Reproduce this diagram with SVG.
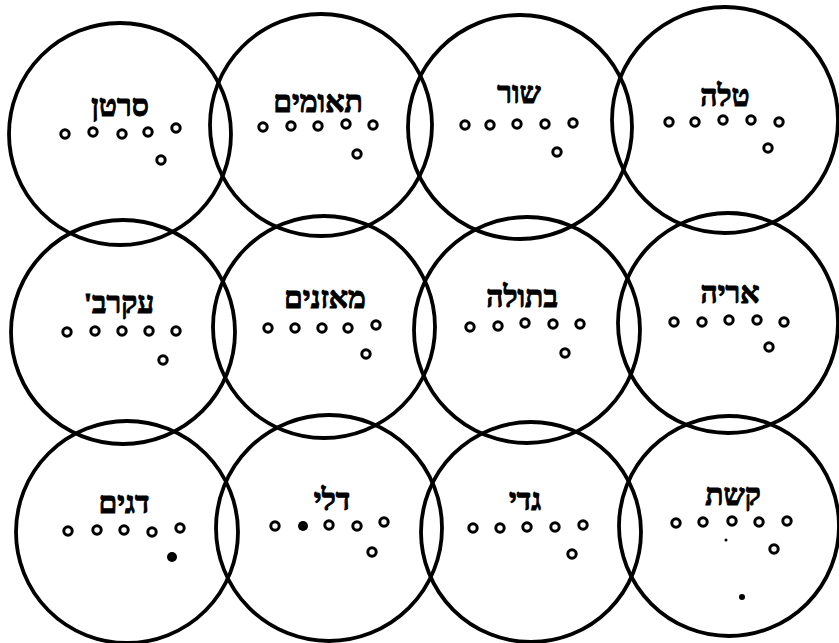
<svg xmlns="http://www.w3.org/2000/svg" width="839" height="643" viewBox="0 0 839 643">
<style>
.ring{fill:none;stroke:#000;stroke-width:3.8}
.d{fill:none;stroke:#000;stroke-width:3}
.f{fill:#000}
.lbl{font-family:"Liberation Serif","DejaVu Serif",serif;font-size:30px;font-weight:bold;fill:#000;stroke:#000;stroke-width:1;text-anchor:middle;direction:rtl}
</style>
<rect width="839" height="643" fill="#fff"/>
<g id="sartan">
<circle class="ring" cx="120" cy="134" r="111"/>
<text class="lbl" x="120" y="116">סרטן</text>
<circle class="d" cx="65" cy="134" r="4.2"/><circle class="d" cx="93" cy="132" r="4.2"/><circle class="d" cx="122" cy="134" r="4.2"/><circle class="d" cx="148" cy="132" r="4.2"/><circle class="d" cx="176" cy="128" r="4.2"/><circle class="d" cx="161" cy="160" r="4.2"/>
</g>
<g id="teomim">
<circle class="ring" cx="321" cy="125" r="111"/>
<text class="lbl" x="318" y="112">תאומים</text>
<circle class="d" cx="263" cy="127" r="4.2"/><circle class="d" cx="291" cy="126" r="4.2"/><circle class="d" cx="318" cy="126" r="4.2"/><circle class="d" cx="346" cy="124" r="4.2"/><circle class="d" cx="373" cy="125" r="4.2"/><circle class="d" cx="357" cy="154" r="4.2"/>
</g>
<g id="shor">
<circle class="ring" cx="520" cy="127" r="112"/>
<text class="lbl" x="519" y="103">שור</text>
<circle class="d" cx="465" cy="125" r="4.2"/><circle class="d" cx="490" cy="125" r="4.2"/><circle class="d" cx="517" cy="124" r="4.2"/><circle class="d" cx="545" cy="124" r="4.2"/><circle class="d" cx="573" cy="123" r="4.2"/><circle class="d" cx="557" cy="152" r="4.2"/>
</g>
<g id="taleh">
<circle class="ring" cx="725" cy="120" r="113"/>
<text class="lbl" x="725" y="106">טלה</text>
<circle class="d" cx="669" cy="122" r="4.2"/><circle class="d" cx="695" cy="122" r="4.2"/><circle class="d" cx="723" cy="120" r="4.2"/><circle class="d" cx="751" cy="120" r="4.2"/><circle class="d" cx="779" cy="122" r="4.2"/><circle class="d" cx="768" cy="148" r="4.2"/>
</g>
<g id="akrav">
<circle class="ring" cx="123" cy="332" r="112"/>
<text class="lbl" x="119" y="313">עקרב'</text>
<circle class="d" cx="67" cy="332" r="4.2"/><circle class="d" cx="95" cy="331" r="4.2"/><circle class="d" cx="122" cy="331" r="4.2"/><circle class="d" cx="149" cy="331" r="4.2"/><circle class="d" cx="176" cy="331" r="4.2"/><circle class="d" cx="163" cy="360" r="4.2"/>
</g>
<g id="moznayim">
<circle class="ring" cx="324" cy="327" r="111"/>
<text class="lbl" x="325" y="308">מאזנים</text>
<circle class="d" cx="268" cy="328" r="4.2"/><circle class="d" cx="295" cy="328" r="4.2"/><circle class="d" cx="322" cy="328" r="4.2"/><circle class="d" cx="348" cy="328" r="4.2"/><circle class="d" cx="376" cy="325" r="4.2"/><circle class="d" cx="366" cy="354" r="4.2"/>
</g>
<g id="betulah">
<circle class="ring" cx="527" cy="330" r="113"/>
<text class="lbl" x="522" y="307">בתולה</text>
<circle class="d" cx="470" cy="327" r="4.2"/><circle class="d" cx="498" cy="326" r="4.2"/><circle class="d" cx="525" cy="323" r="4.2"/><circle class="d" cx="553" cy="324" r="4.2"/><circle class="d" cx="580" cy="324" r="4.2"/><circle class="d" cx="565" cy="353" r="4.2"/>
</g>
<g id="aryeh">
<circle class="ring" cx="728" cy="323" r="110"/>
<text class="lbl" x="730" y="303">אריה</text>
<circle class="d" cx="674" cy="322" r="4.2"/><circle class="d" cx="702" cy="322" r="4.2"/><circle class="d" cx="729" cy="320" r="4.2"/><circle class="d" cx="757" cy="320" r="4.2"/><circle class="d" cx="784" cy="322" r="4.2"/><circle class="d" cx="769" cy="347" r="4.2"/>
</g>
<g id="dagim">
<circle class="ring" cx="127" cy="532" r="111"/>
<text class="lbl" x="124" y="513">דגים</text>
<circle class="d" cx="68" cy="531" r="4.2"/><circle class="d" cx="97" cy="530" r="4.2"/><circle class="d" cx="124" cy="530" r="4.2"/><circle class="d" cx="152" cy="532" r="4.2"/><circle class="d" cx="180" cy="528" r="4.2"/><circle class="f" cx="172" cy="557" r="5"/>
</g>
<g id="deli">
<circle class="ring" cx="329" cy="528" r="113"/>
<text class="lbl" x="332" y="510">דלי</text>
<circle class="d" cx="275" cy="526" r="4.2"/><circle class="f" cx="303" cy="526" r="5"/><circle class="d" cx="329" cy="525" r="4.2"/><circle class="d" cx="357" cy="526" r="4.2"/><circle class="d" cx="384" cy="522" r="4.2"/><circle class="d" cx="372" cy="552" r="4.2"/>
</g>
<g id="gedi">
<circle class="ring" cx="531" cy="532" r="110"/>
<text class="lbl" x="525" y="510">גדי</text>
<circle class="d" cx="473" cy="528" r="4.2"/><circle class="d" cx="500" cy="528" r="4.2"/><circle class="d" cx="527" cy="527" r="4.2"/><circle class="d" cx="555" cy="527" r="4.2"/><circle class="d" cx="583" cy="525" r="4.2"/><circle class="d" cx="572" cy="554" r="4.2"/>
</g>
<g id="keshet">
<circle class="ring" cx="729" cy="526" r="110"/>
<text class="lbl" x="733" y="505">קשת</text>
<circle class="d" cx="676" cy="523" r="4.2"/><circle class="d" cx="703" cy="522" r="4.2"/><circle class="d" cx="732" cy="521" r="4.2"/><circle class="d" cx="759" cy="522" r="4.2"/><circle class="d" cx="787" cy="521" r="4.2"/><circle class="d" cx="774" cy="549" r="4.2"/>
<circle class="f" cx="726" cy="540" r="1.5"/><circle class="f" cx="742" cy="597" r="3"/>
</g>
<g id="connectors"/>
</svg>
